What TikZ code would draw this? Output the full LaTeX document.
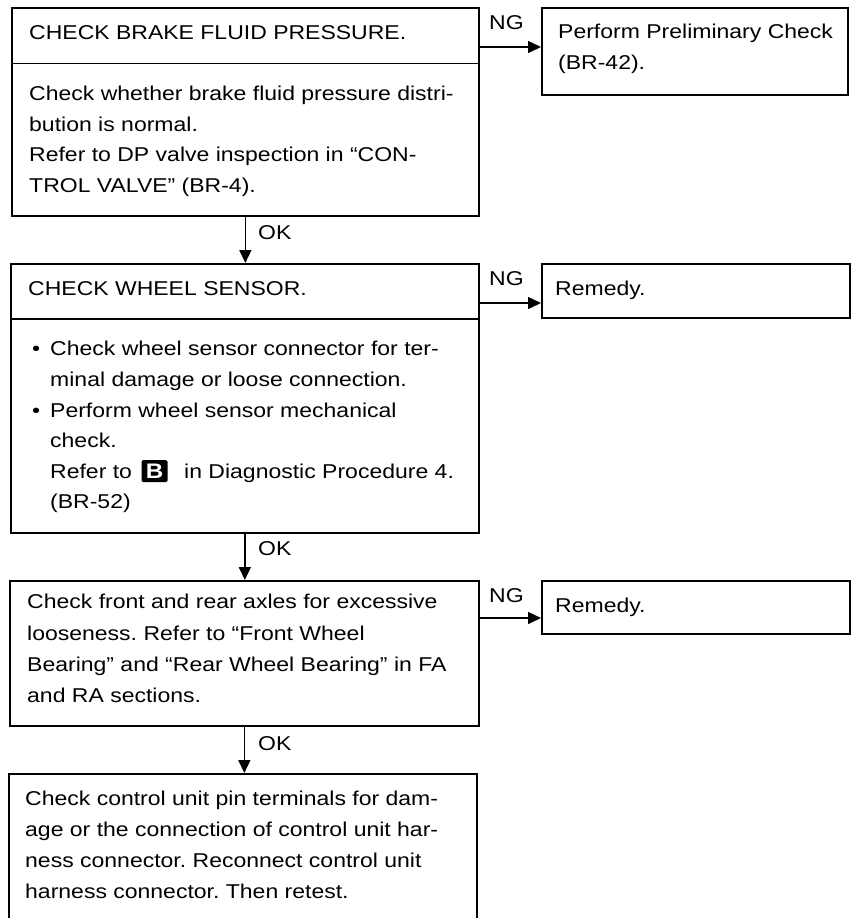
\documentclass[tikz,border=0pt]{standalone}
\usepackage{fontspec}
\setmainfont[FakeStretch=1.15]{Liberation Sans}
\usetikzlibrary{arrows.meta}
\frenchspacing
\begin{document}
\begin{tikzpicture}[x=1pt,y=-1pt,
  box/.style={draw, line width=1.7pt, inner sep=0pt, anchor=north west},
  txt/.style={anchor=base west, inner sep=0pt, font=\fontsize{20}{31}\selectfont},
  arr/.style={line width=1.5pt, -{Triangle[length=13pt,width=12pt]}},
]
% left column boxes
\node[box, minimum width=467pt, minimum height=55.7pt] (b1t) at (11,7) {};
\node[box, minimum width=467pt, minimum height=152.3pt] (b1b) at (11,62.7) {};
\node[box, minimum width=468pt, minimum height=55pt] (b2t) at (10,263) {};
\node[box, minimum width=468pt, minimum height=214pt] (b2b) at (10,318) {};
\node[box, minimum width=469pt, minimum height=145pt] (b3) at (9,580) {};
\node[box, minimum width=468pt, minimum height=175pt] (b4) at (8,773) {};
% right column boxes
\node[box, minimum width=306pt, minimum height=87pt] (r1) at (541,7) {};
\node[box, minimum width=308pt, minimum height=54pt] (r2) at (541,263) {};
\node[box, minimum width=308pt, minimum height=53pt] (r3) at (541,580) {};

% texts box 1
\node[txt] (t1) at (29,39.3) {CHECK BRAKE FLUID PRESSURE.};
\node[txt] (t1a) at (29,100) {Check whether brake fluid pressure distri-};
\node[txt] (t1b) at (29,131) {bution is normal.};
\node[txt] (t1c) at (29,161.5) {Refer to DP valve inspection in “CON-};
\node[txt] (t1d) at (29,192) {TROL VALVE” (BR-4).};
\node[txt] (tr1a) at (558,38) {Perform Preliminary Check};
\node[txt] (tr1b) at (558,69) {(BR-42).};

% texts box 2
\node[txt] (t2) at (28,295) {CHECK WHEEL SENSOR.};
\node[txt] (u1) at (32,355) {•};
\node[txt] (t2a) at (50,355) {Check wheel sensor connector for ter-};
\node[txt] (t2b) at (50,386) {minal damage or loose connection.};
\node[txt] (u2) at (32,417) {•};
\node[txt] (t2c) at (50,417) {Perform wheel sensor mechanical};
\node[txt] (t2d) at (50,447) {check.};
\node[txt] (t2e) at (50,478) {Refer to};
\node[fill=black, text=white, minimum width=26pt, minimum height=22pt, inner sep=0pt,
      rounded corners=1.5pt, font=\fontsize{21}{21}\selectfont\bfseries] (bicon) at (154.5,471) {B};
\node[txt] (t2f) at (184,478) {in Diagnostic Procedure 4.};
\node[txt] (t2g) at (50,508) {(BR-52)};
\node[txt] (tr2) at (555,295) {Remedy.};

% texts box 3
\node[txt] (t3a) at (27,608) {Check front and rear axles for excessive};
\node[txt] (t3b) at (27,640) {looseness. Refer to “Front Wheel};
\node[txt] (t3c) at (27,671) {Bearing” and “Rear Wheel Bearing” in FA};
\node[txt] (t3d) at (27,702) {and RA sections.};
\node[txt] (tr3) at (555,612) {Remedy.};

% texts box 4
\node[txt] (t4a) at (25,805) {Check control unit pin terminals for dam-};
\node[txt] (t4b) at (25,836) {age or the connection of control unit har-};
\node[txt] (t4c) at (25,867) {ness connector. Reconnect control unit};
\node[txt] (t4d) at (25,898) {harness connector. Then retest.};

% labels
\node[txt] (ng1) at (489,29) {NG};
\node[txt] (ng2) at (489,285) {NG};
\node[txt] (ng3) at (489,602) {NG};
\node[txt] (ok1) at (258,239) {OK};
\node[txt] (ok2) at (258,555) {OK};
\node[txt] (ok3) at (258,750) {OK};

% connectors
\coordinate (y1) at (0,47);
\coordinate (y2) at (0,303);
\coordinate (y3) at (0,618);
\draw[arr] (b1t.east |- y1) -- (r1.west |- y1);
\draw[arr] (b2t.east |- y2) -- (r2.west |- y2);
\draw[arr] (b3.east |- y3) -- (r3.west |- y3);
\draw[arr] (b1b.south) -- (b1b.south |- b2t.north);
\draw[arr] (b2b.south) -- (b2b.south |- b3.north);
\draw[arr] (b3.south) -- (b3.south |- b4.north);

\pgfresetboundingbox
\useasboundingbox (0,0) rectangle (852,918);
\end{tikzpicture}
\end{document}
